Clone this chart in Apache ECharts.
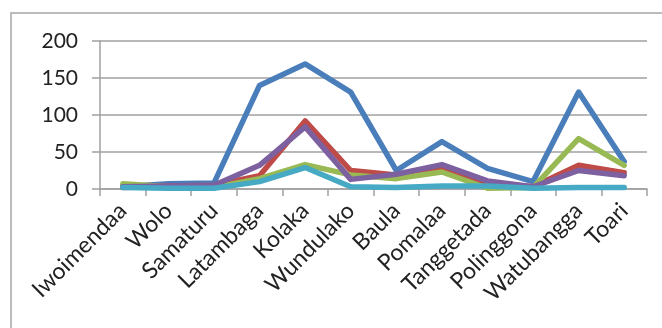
<!DOCTYPE html>
<html>
<head>
<meta charset="utf-8">
<script src="https://cdn.jsdelivr.net/npm/echarts@6/dist/echarts.min.js"></script>
<style>
  html, body { margin: 0; padding: 0; background: #fff; }
  #chart { width: 662px; height: 328px; }
</style>
</head>
<body>
<div id="chart"></div>
<script>
const categories = ['Iwoimendaa', 'Wolo', 'Samaturu', 'Latambaga', 'Kolaka', 'Wundulako',
  'Baula', 'Pomalaa', 'Tanggetada', 'Polinggona', 'Watubangga', 'Toari'];

const seriesBlue   = [3, 7, 8, 140, 169, 131, 25, 64, 28, 10, 131, 37];
const seriesRed    = [2, 4, 5, 18, 92, 25, 19, 29, 8, 3, 32, 22];
const seriesGreen  = [7, 3, 2, 14, 33, 19, 14, 23, 1, 2, 68, 32];
const seriesPurple = [3, 4, 5, 32, 84, 13, 20, 33, 11, 3, 25, 18];
const seriesCyan   = [2, 1, 1, 10, 29, 3, 2, 4, 4, 1, 2, 2];

const yTicks = [0, 50, 100, 150, 200];

const colors = ['#4a7ebb', '#be4b48', '#98b954', '#7d60a0', '#46aac5'];
const allSeries = [seriesBlue, seriesRed, seriesGreen, seriesPurple, seriesCyan];

const chart = echarts.init(document.getElementById('chart'), null, { renderer: 'canvas' });

const font = 'Lato, "Open Sans", sans-serif';

chart.setOption({
  animation: false,
  backgroundColor: '#fff',
  graphic: [{
    type: 'rect',
    shape: { x: 11, y: 13, width: 700, height: 400 },
    style: { fill: 'none', stroke: '#a6a6a6', lineWidth: 1.5 },
    silent: true,
    z: -1
  }],
  grid: { left: 100, right: 15, top: 41, bottom: 139, containLabel: false },
  xAxis: {
    type: 'category',
    data: categories,
    boundaryGap: true,
    axisLine: { show: true, lineStyle: { color: '#a0a0a0', width: 1.5 } },
    axisTick: { show: true, alignWithLabel: false, length: 7, lineStyle: { color: '#a0a0a0', width: 1.5 } },
    axisLabel: {
      interval: 0,
      rotate: 45,
      margin: 18,
      color: '#222',
      fontSize: 23,
      fontFamily: font
    },
    splitLine: { show: false }
  },
  yAxis: {
    type: 'value',
    min: yTicks[0],
    max: yTicks[yTicks.length - 1],
    interval: yTicks[1] - yTicks[0],
    axisLine: { show: true, lineStyle: { color: '#a0a0a0', width: 1.5 } },
    axisTick: { show: true, inside: false, length: 8, lineStyle: { color: '#a0a0a0', width: 1.5 } },
    axisLabel: {
      margin: 22,
      color: '#222',
      fontSize: 21,
      fontFamily: font
    },
    splitLine: { show: true, lineStyle: { color: '#a0a0a0', width: 1.5 } }
  },
  series: allSeries.map((d, i) => ({
    type: 'line',
    data: d,
    symbol: 'none',
    lineStyle: { color: colors[i], width: 5.5, cap: 'round', join: 'round' },
    itemStyle: { color: colors[i] },
    z: 2 + i
  }))
});
</script>
</body>
</html>
